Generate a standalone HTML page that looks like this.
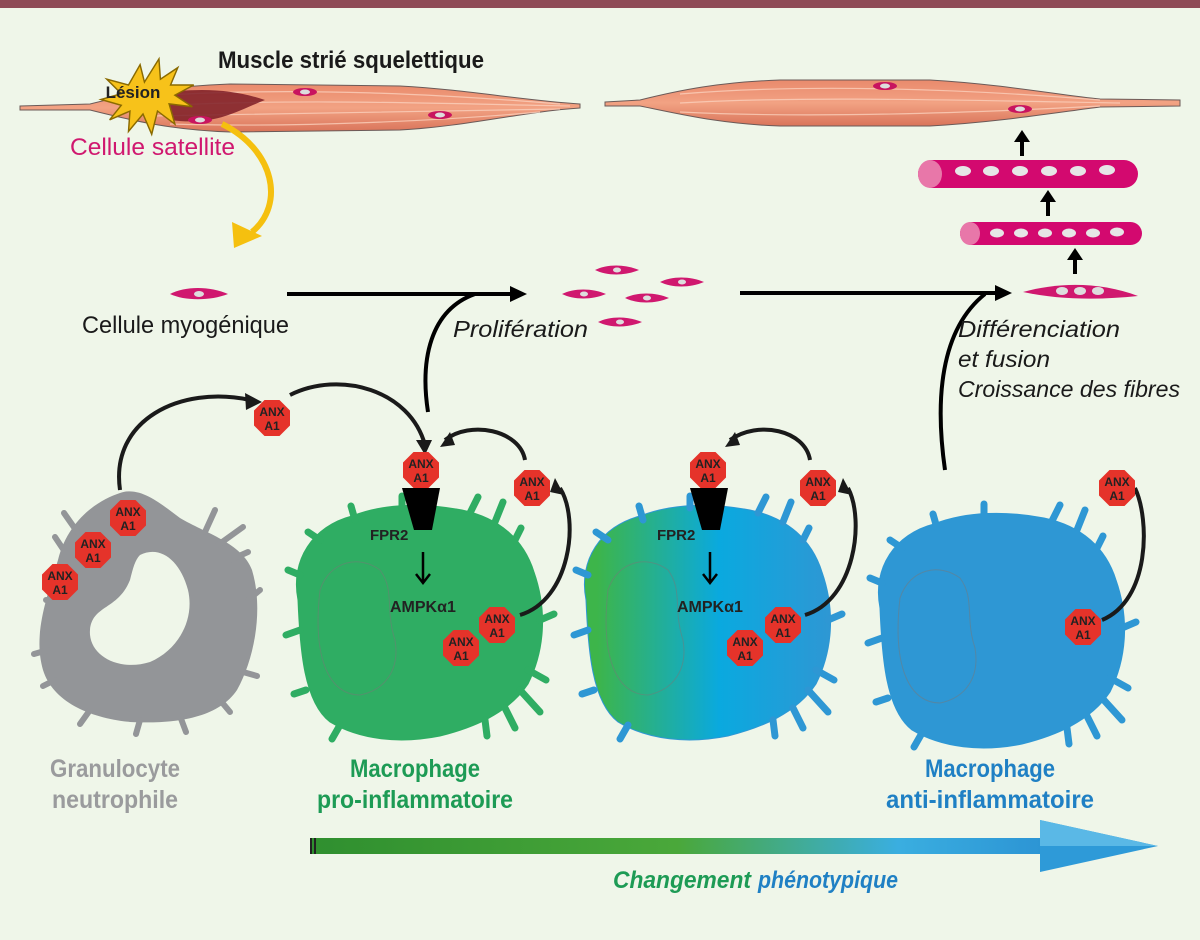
<!DOCTYPE html>
<html><head><meta charset="utf-8"><style>
html,body{margin:0;padding:0;background:#eff6e9;}
svg{display:block;}
text{font-family:"Liberation Sans Narrow","Liberation Sans",sans-serif;}
.anx{font-weight:bold;font-size:12px;fill:#222;text-anchor:middle;}
</style></head><body>
<svg width="1200" height="940" viewBox="0 0 1200 940" xmlns="http://www.w3.org/2000/svg">
<defs>
<linearGradient id="mus" x1="0" y1="0" x2="0" y2="1">
<stop offset="0" stop-color="#e98a6c"/><stop offset="0.5" stop-color="#f2a283"/><stop offset="1" stop-color="#d9745a"/>
</linearGradient>
<linearGradient id="gb" x1="0" y1="0" x2="1" y2="0">
<stop offset="0.05" stop-color="#3db54a"/><stop offset="0.55" stop-color="#0aa9df"/><stop offset="1" stop-color="#2e97d4"/>
</linearGradient>
<linearGradient id="arr" x1="0" y1="0" x2="1" y2="0">
<stop offset="0" stop-color="#2f8f2f"/><stop offset="0.5" stop-color="#4aa83a"/><stop offset="0.8" stop-color="#3aaee0"/><stop offset="1" stop-color="#2c94d4"/>
</linearGradient>
<g id="oct"><polygon points="-7.5,-18 7.5,-18 18,-7.5 18,7.5 7.5,18 -7.5,18 -18,7.5 -18,-7.5" fill="#e5332a"/><text class="anx" y="-2">ANX</text><text class="anx" y="12">A1</text></g>
<g id="mac">
<path d="M298,600 C290,560 313,526 352,516 C385,503 425,503 462,510 C500,518 524,540 534,572 C548,612 544,652 528,684 C508,714 472,728 440,736 C400,744 360,740 330,722 C304,702 300,650 298,600Z"/>
<path d="M300,575 l-12,-5 M300,630 l-14,5 M320,540 l-12,-8 M355,520 l-4,-14 M402,508 l0,-12 M470,513 l8,-16 M495,522 l8,-20 M515,540 l6,-12 M540,620 l14,-6 M528,670 l18,10 M520,690 l20,22 M505,708 l10,20 M485,720 l2,16 M340,725 l-8,14 M306,690 l-12,4" stroke-width="7" stroke-linecap="round" fill="none"/>
</g>
</defs>
<rect x="0" y="0" width="1200" height="8" fill="#8e4b56"/>
<!-- muscle left -->
<path d="M20,106 L90,104 C130,94 170,86 230,84 L400,86 C470,90 520,100 580,104 L580,108 C520,112 470,126 400,130 L230,132 C170,130 130,120 90,110 L20,110Z" fill="url(#mus)" stroke="#6b5a58" stroke-width="1"/>
<g stroke="#fbd0bc" stroke-width="1.2" fill="none" opacity="0.8">
<path d="M150,96 C300,86 450,95 560,104"/><path d="M150,106 C300,98 450,104 570,106"/><path d="M150,116 C300,114 450,112 560,109"/><path d="M170,124 C300,128 450,120 540,112"/>
</g>
<path d="M150,95 C200,86 235,90 265,100 C235,112 215,126 170,120Z" fill="#7d1c26" opacity="0.85"/>
<path d="M130,100 l8,-14 l3,12 l10,-16 l1,14 l12,-8 l-5,12 l16,0 l-13,7 l12,8 l-16,-2 l4,14 l-12,-9 l-4,16 l-6,-14 l-10,12 l1,-14 l-14,6 l8,-10 l-14,-4 l14,-4 l-10,-10Z" transform="translate(-60,-60) scale(1.45)" fill="#f7c21a" stroke="#8a6a00" stroke-width="1"/>
<text x="133" y="98" font-size="17" font-weight="bold" text-anchor="middle" fill="#222">Lésion</text>
<ellipse cx="305" cy="92" rx="12" ry="4" fill="#c8145f"/><ellipse cx="305" cy="92" rx="5" ry="2.5" fill="#ddd"/>
<ellipse cx="440" cy="115" rx="12" ry="4" fill="#c8145f"/><ellipse cx="440" cy="115" rx="5" ry="2.5" fill="#ddd"/>
<ellipse cx="200" cy="120" rx="12" ry="4" fill="#c8145f"/><ellipse cx="200" cy="120" rx="5" ry="2.5" fill="#ddd"/>
<text x="218" y="68" font-size="24" font-weight="bold" fill="#1a1a1a" textLength="266" lengthAdjust="spacingAndGlyphs">Muscle strié squelettique</text>
<text x="70" y="155" font-size="24" fill="#d0186f" textLength="165" lengthAdjust="spacingAndGlyphs">Cellule satellite</text>
<!-- muscle right -->
<path d="M605,102 L640,100 C680,90 720,82 780,80 L930,80 C1000,84 1060,95 1100,99 L1180,100 L1180,106 L1100,107 C1060,112 1000,122 930,126 L780,126 C720,124 680,114 640,106 L605,106Z" fill="url(#mus)" stroke="#6b5a58" stroke-width="1"/>
<g stroke="#fbd0bc" stroke-width="1.2" fill="none" opacity="0.8">
<path d="M680,94 C800,84 950,88 1100,100"/><path d="M680,103 C800,96 950,100 1120,103"/><path d="M680,112 C800,118 950,114 1100,106"/>
</g>
<ellipse cx="885" cy="86" rx="12" ry="4" fill="#c8145f"/><ellipse cx="885" cy="86" rx="5" ry="2.5" fill="#ddd"/>
<ellipse cx="1020" cy="109" rx="12" ry="4" fill="#c8145f"/><ellipse cx="1020" cy="109" rx="5" ry="2.5" fill="#ddd"/>
<!-- yellow arrow -->
<path d="M222,124 C275,150 285,205 252,232" stroke="#f5c00f" stroke-width="6" fill="none"/>
<polygon points="232,222 262,236 234,248" fill="#f5c00f"/>
<!-- myogenic cell -->
<path d="M170,294 C185,286 210,286 228,294 C210,301 185,301 170,294Z" fill="#d0186f"/><ellipse cx="199" cy="294" rx="5" ry="3" fill="#ddd"/>
<text x="82" y="333" font-size="24" fill="#1a1a1a" textLength="207" lengthAdjust="spacingAndGlyphs">Cellule myogénique</text>
<!-- arrows -->
<line x1="287" y1="294" x2="512" y2="294" stroke="#000" stroke-width="4"/>
<polygon points="510,286 527,294 510,302" fill="#000"/>
<path d="M428,412 C420,360 430,310 475,294" stroke="#000" stroke-width="4" fill="none"/>
<line x1="740" y1="293" x2="997" y2="293" stroke="#000" stroke-width="4"/>
<polygon points="995,285 1012,293 995,301" fill="#000"/>
<path d="M945,470 C935,400 940,330 985,294" stroke="#000" stroke-width="4" fill="none"/>
<!-- proliferating cells -->
<g fill="#d0186f">
<path d="M595,270 c12,-6 30,-6 44,0 c-14,6 -32,6 -44,0z"/><path d="M660,282 c12,-6 30,-6 44,0 c-14,6 -32,6 -44,0z"/>
<path d="M562,294 c12,-6 30,-6 44,0 c-14,6 -32,6 -44,0z"/><path d="M625,298 c12,-6 30,-6 44,0 c-14,6 -32,6 -44,0z"/>
<path d="M598,322 c12,-6 30,-6 44,0 c-14,6 -32,6 -44,0z"/>
</g>
<g fill="#ddd"><ellipse cx="617" cy="270" rx="4" ry="2.5"/><ellipse cx="682" cy="282" rx="4" ry="2.5"/><ellipse cx="584" cy="294" rx="4" ry="2.5"/><ellipse cx="647" cy="298" rx="4" ry="2.5"/><ellipse cx="620" cy="322" rx="4" ry="2.5"/></g>
<text x="453" y="337" font-size="23" font-style="italic" fill="#1a1a1a" textLength="135" lengthAdjust="spacingAndGlyphs">Prolifération</text>
<!-- myotubes -->
<path d="M1023,292 C1060,282 1100,282 1138,296 C1100,300 1060,300 1023,292Z" fill="#d0186f"/>
<g fill="#ddd"><ellipse cx="1062" cy="291" rx="6" ry="4"/><ellipse cx="1080" cy="291" rx="6" ry="4"/><ellipse cx="1098" cy="291" rx="6" ry="4"/></g>
<rect x="960" y="222" width="182" height="23" rx="11.5" fill="#d3096f"/>
<ellipse cx="970" cy="233.5" rx="10" ry="11.5" fill="#e877a9"/>
<rect x="918" y="160" width="220" height="28" rx="14" fill="#d3096f"/>
<ellipse cx="930" cy="174" rx="12" ry="14" fill="#e877a9"/>
<g fill="#e6e6e6"><ellipse cx="997" cy="233" rx="7" ry="4.5"/><ellipse cx="1021" cy="233" rx="7" ry="4.5"/><ellipse cx="1045" cy="233" rx="7" ry="4.5"/><ellipse cx="1069" cy="233" rx="7" ry="4.5"/><ellipse cx="1093" cy="233" rx="7" ry="4.5"/><ellipse cx="1117" cy="232" rx="7" ry="4.5"/>
<ellipse cx="963" cy="171" rx="8" ry="5"/><ellipse cx="991" cy="171" rx="8" ry="5"/><ellipse cx="1020" cy="171" rx="8" ry="5"/><ellipse cx="1049" cy="171" rx="8" ry="5"/><ellipse cx="1078" cy="171" rx="8" ry="5"/><ellipse cx="1107" cy="170" rx="8" ry="5"/></g>
<g fill="#000">
<rect x="1073" y="258" width="4" height="16"/><polygon points="1067,260 1075,248 1083,260"/>
<rect x="1046" y="200" width="4" height="16"/><polygon points="1040,202 1048,190 1056,202"/>
<rect x="1020" y="140" width="4" height="16"/><polygon points="1014,142 1022,130 1030,142"/>
</g>
<g font-size="23" font-style="italic" fill="#1a1a1a">
<text x="958" y="337" textLength="162" lengthAdjust="spacingAndGlyphs">Différenciation</text>
<text x="958" y="367" textLength="92" lengthAdjust="spacingAndGlyphs">et fusion</text>
<text x="958" y="397" textLength="222" lengthAdjust="spacingAndGlyphs">Croissance des fibres</text>
</g>
<!-- neutrophil -->
<path fill="#939598" fill-rule="evenodd" d="M58,560 C68,520 98,500 120,493 C140,486 160,503 180,518 C205,533 242,543 252,570 C264,610 254,660 237,690 C217,720 170,724 130,722 C90,718 53,702 43,670 C33,635 46,600 58,560Z M140,555 C160,545 180,560 188,590 C195,620 178,650 150,662 C118,672 88,655 90,630 C92,605 118,610 130,580 C133,568 135,560 140,555Z"/>
<path d="M65,552 l-10,-15 M78,533 l-14,-20 M60,600 l-14,0 M48,650 l-14,4 M55,680 l-12,6 M90,710 l-10,14 M140,720 l-4,14 M180,716 l6,16 M220,700 l10,12 M243,672 l14,4 M248,600 l12,-10 M218,545 l25,-18 M230,560 l18,-8 M205,532 l10,-22" stroke="#939598" stroke-width="6" stroke-linecap="round"/>
<!-- macrophages -->
<g fill="#2fad63" stroke="#2fad63"><use href="#mac"/></g>
<g fill="url(#gb)" stroke="#2e97d4"><use href="#mac" transform="translate(288,0)"/></g>
<g fill="#2e97d4" stroke="#2e97d4"><use href="#mac" transform="translate(582,8)"/></g>
<g fill="none" stroke="#777" stroke-width="1" opacity="0.5">
<path d="M320,590 C330,560 360,555 380,570 C395,590 385,610 395,640 C400,670 385,690 360,695 C330,695 312,660 320,590Z"/>
<path d="M608,590 C618,560 648,555 668,570 C683,590 673,610 683,640 C688,670 673,690 648,695 C618,695 600,660 608,590Z"/>
<path d="M900,598 C910,568 940,563 960,578 C975,598 965,618 975,648 C980,678 965,698 940,703 C910,703 892,668 900,598Z"/>
</g>
<!-- receptors -->
<polygon points="402,488 440,488 432,530 414,530" fill="#000"/>
<polygon points="690,488 728,488 720,530 702,530" fill="#000"/>
<text x="370" y="540" font-size="15" font-weight="bold" fill="#222">FPR2</text>
<text x="657" y="540" font-size="15" font-weight="bold" fill="#222">FPR2</text>
<g stroke="#000" stroke-width="2.5" fill="none"><path d="M423,552 v30 M416,574 l7,9 l7,-9"/><path d="M710,552 v30 M703,574 l7,9 l7,-9"/></g>
<text x="390" y="612" font-size="16" font-weight="bold" fill="#222">AMPKα1</text>
<text x="677" y="612" font-size="16" font-weight="bold" fill="#222">AMPKα1</text>
<!-- curved arrows -->
<g fill="none" stroke="#1a1a1a" stroke-width="4">
<path d="M120,490 C110,420 180,385 250,400"/>
<path d="M290,395 C340,370 410,390 425,445"/>
<path d="M525,460 C520,430 470,420 445,440"/>
<path d="M520,615 C570,600 580,520 560,488"/>
<path d="M810,460 C805,430 758,420 730,440"/>
<path d="M805,615 C855,600 865,520 848,488"/>
<path d="M1102,620 C1150,600 1150,520 1135,488"/>
</g>
<g fill="#1a1a1a">
<polygon points="245,393 262,402 246,410"/>
<polygon points="416,440 432,440 425,455"/>
<polygon points="450,432 440,447 455,445"/>
<polygon points="735,432 725,447 740,445"/>
<polygon points="555,478 564,495 550,492"/>
<polygon points="843,478 852,495 838,492"/>
<polygon points="1130,478 1139,495 1125,492"/>
</g>
<!-- ANX octagons -->
<use href="#oct" x="272" y="418"/><use href="#oct" x="421" y="470"/><use href="#oct" x="532" y="488"/>
<use href="#oct" x="128" y="518"/><use href="#oct" x="93" y="550"/><use href="#oct" x="60" y="582"/>
<use href="#oct" x="497" y="625"/><use href="#oct" x="461" y="648"/>
<use href="#oct" x="708" y="470"/><use href="#oct" x="818" y="488"/>
<use href="#oct" x="783" y="625"/><use href="#oct" x="745" y="648"/>
<use href="#oct" x="1117" y="488"/><use href="#oct" x="1083" y="627"/>
<!-- labels -->
<g font-size="25" font-weight="bold">
<text x="50" y="777" fill="#9a9b9d" textLength="130" lengthAdjust="spacingAndGlyphs">Granulocyte</text>
<text x="52" y="808" fill="#9a9b9d" textLength="126" lengthAdjust="spacingAndGlyphs">neutrophile</text>
<text x="350" y="777" fill="#1d9b55" textLength="130" lengthAdjust="spacingAndGlyphs">Macrophage</text>
<text x="317" y="808" fill="#1d9b55" textLength="196" lengthAdjust="spacingAndGlyphs">pro-inflammatoire</text>
<text x="925" y="777" fill="#1f80c4" textLength="130" lengthAdjust="spacingAndGlyphs">Macrophage</text>
<text x="886" y="808" fill="#1f80c4" textLength="208" lengthAdjust="spacingAndGlyphs">anti-inflammatoire</text>
</g>
<!-- big arrow -->
<rect x="310" y="838" width="735" height="16" fill="url(#arr)"/>
<rect x="310" y="838" width="2" height="16" fill="#222"/><rect x="314" y="838" width="2" height="16" fill="#222"/>
<polygon points="1040,820 1158,846 1040,872" fill="#2e9ad8"/>
<polygon points="1040,820 1158,846 1040,846" fill="#5ab8e6"/>
<text x="613" y="888" font-size="24" font-weight="bold" font-style="italic" fill="#1d9b55" textLength="138" lengthAdjust="spacingAndGlyphs">Changement</text>
<text x="758" y="888" font-size="24" font-weight="bold" font-style="italic" fill="#1f80c4" textLength="140" lengthAdjust="spacingAndGlyphs">phénotypique</text>
</svg>
</body></html>
